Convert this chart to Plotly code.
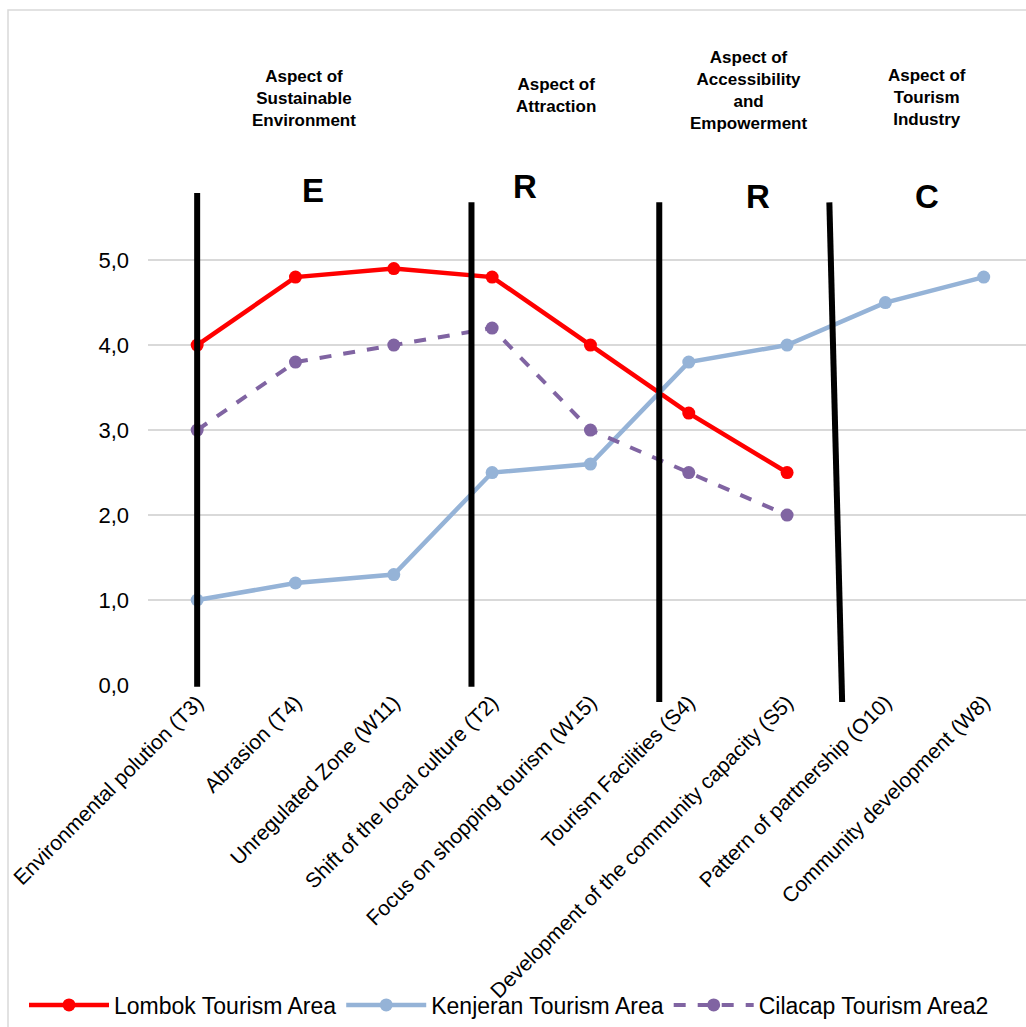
import plotly.graph_objects as go

# Factors on the x axis
factors = [
    "Environmental polution (T3)",
    "Abrasion (T4)",
    "Unregulated Zone (W11)",
    "Shift of the local culture (T2)",
    "Focus on shopping tourism (W15)",
    "Tourism Facilities (S4)",
    "Development of the community capacity (S5)",
    "Pattern of partnership (O10)",
    "Community development (W8)",
]

# Scores per tourism area
lombok = [4.0, 4.8, 4.9, 4.8, 4.0, 3.2, 2.5, None, None]
kenjeran = [1.0, 1.2, 1.3, 2.5, 2.6, 3.8, 4.0, 4.5, 4.8]
cilacap = [3.0, 3.8, 4.0, 4.2, 3.0, 2.5, 2.0, None, None]

y_ticks = [0, 1, 2, 3, 4, 5]

# Aspect headings: text, x (factor-index units), vertical centre (px above the 5,0 line)
aspects = [
    ("Aspect of<br>Sustainable<br>Environment", 1.09, 162),
    ("Aspect of<br>Attraction", 3.65, 165),
    ("Aspect of<br>Accessibility<br>and<br>Empowerment", 5.61, 170),
    ("Aspect of<br>Tourism<br>Industry", 7.42, 163),
]
# Group letters: text, x, vertical centre (px above the 5,0 line)
letters = [("E", 1.18, 70), ("R", 3.33, 74), ("R", 5.70, 64), ("C", 7.42, 64)]

# Dividers between aspect groups: (x_top, x_bottom, y_top, y_bottom) in data units
dividers = [
    (0.0, 0.0, 5.79, -0.02),
    (2.79, 2.79, 5.68, -0.02),
    (4.70, 4.70, 5.68, -0.20),
    (6.43, 6.56, 5.68, -0.20),
]

X_RANGE = [-0.5, 8.43]
Y_RANGE = [0, 5.06]
PLOT_W, PLOT_H = 878, 430
FONT = "Arial, Liberation Sans, sans-serif"


def px(v):
    return (v - X_RANGE[0]) / (X_RANGE[1] - X_RANGE[0])


def py(v):
    return (v - Y_RANGE[0]) / (Y_RANGE[1] - Y_RANGE[0])


idx = list(range(len(factors)))

fig = go.Figure()
fig.add_trace(go.Scatter(
    x=idx, y=lombok, name="Lombok Tourism Area", mode="lines+markers",
    line=dict(color="#FF0000", width=4.5),
    marker=dict(color="#FF0000", size=13),
))
fig.add_trace(go.Scatter(
    x=idx, y=kenjeran, name="Kenjeran Tourism Area", mode="lines+markers",
    line=dict(color="#95B3D7", width=4.5),
    marker=dict(color="#95B3D7", size=13),
))
fig.add_trace(go.Scatter(
    x=idx, y=cilacap, name="Cilacap Tourism Area2", mode="lines+markers",
    line=dict(color="#8064A2", width=4, dash="dash"),
    marker=dict(color="#8064A2", size=13),
))

shapes = [
    # outer chart frame (left and top edges visible)
    dict(type="rect", xref="paper", yref="paper",
         x0=-140 / PLOT_W, x1=1.2, y0=-1.0, y1=1 + (255 - 10) / PLOT_H,
         line=dict(color="#d9d9d9", width=1.5), layer="below"),
]
for xt, xb, yt, yb in dividers:
    shapes.append(dict(type="line", xref="paper", yref="paper",
                       x0=px(xt), x1=px(xb), y0=py(yt), y1=py(yb),
                       line=dict(color="black", width=6)))

annotations = []
for text, x, dy in aspects:
    annotations.append(dict(
        x=px(x), y=py(5.0) + dy / PLOT_H, xref="paper", yref="paper",
        text="<b>" + text + "</b>", showarrow=False,
        xanchor="center", yanchor="middle",
        font=dict(family=FONT, size=17, color="black"),
    ))
for text, x, dy in letters:
    annotations.append(dict(
        x=px(x), y=py(5.0) + dy / PLOT_H, xref="paper", yref="paper",
        text="<b>" + text + "</b>", showarrow=False,
        xanchor="center", yanchor="middle",
        font=dict(family=FONT, size=33, color="black"),
    ))

fig.update_layout(
    width=1026, height=1027,
    margin=dict(l=148, r=0, t=255, b=342, autoexpand=False),
    paper_bgcolor="white", plot_bgcolor="white",
    separators=", ",
    font=dict(family=FONT, color="black"),
    showlegend=True,
    legend=dict(orientation="h", x=(24 - 148) / PLOT_W, y=-(1005 - 685) / PLOT_H,
                xanchor="left", yanchor="middle",
                font=dict(size=23, family=FONT),
                itemwidth=80, tracegroupgap=0, bgcolor="rgba(0,0,0,0)"),
    xaxis=dict(
        range=X_RANGE, tickmode="array", tickvals=idx, ticktext=factors,
        tickangle=-45, showgrid=False, zeroline=False, showline=False,
        tickfont=dict(size=21, family=FONT), ticks="", ticklen=0,
    ),
    yaxis=dict(
        range=Y_RANGE, tickvals=y_ticks, tickformat=".1f",
        showgrid=True, gridcolor="#d9d9d9", gridwidth=1.5,
        zeroline=False, showline=False, ticks="",
        tickfont=dict(size=22, family=FONT), ticklabelstandoff=18,
    ),
    shapes=shapes,
    annotations=annotations,
)

fig.write_html("out.html")
